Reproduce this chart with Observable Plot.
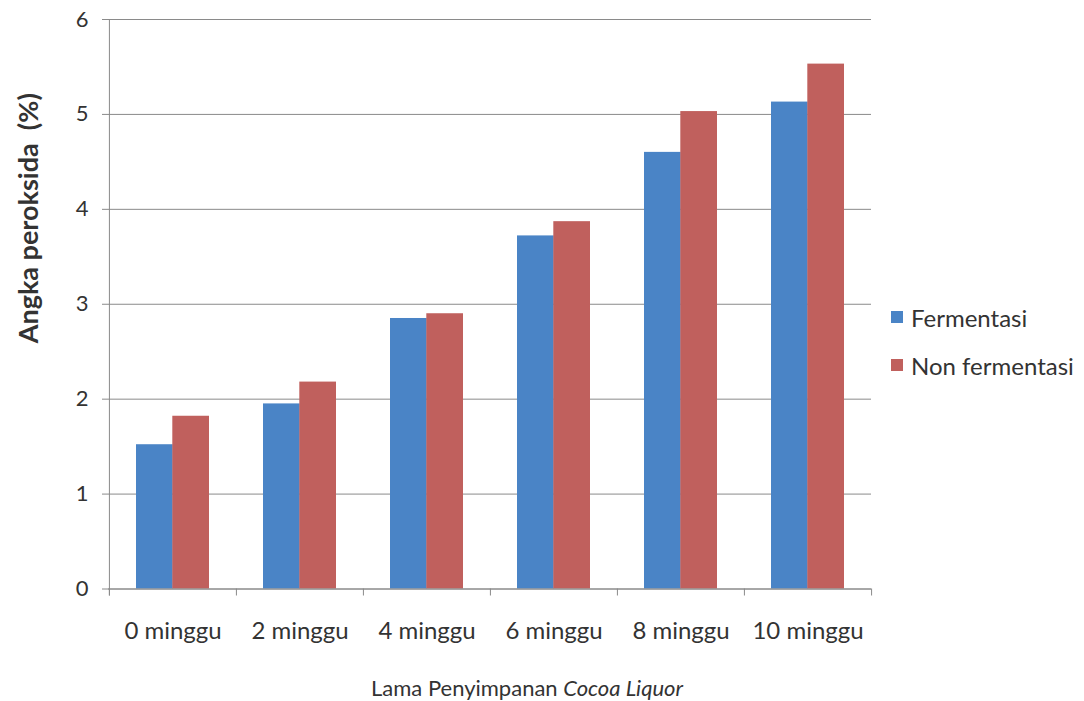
<!DOCTYPE html>
<html>
<head>
<meta charset="utf-8">
<script src="https://cdn.jsdelivr.net/npm/d3@7"></script>
<script src="https://cdn.jsdelivr.net/npm/@observablehq/plot@0.6"></script>
<style>
  body { margin: 0; background: #fff; font-family: Lato, "Open Sans", sans-serif; }
  #wrap { position: relative; width: 1084px; height: 701px; }
  .xtitle { position: absolute; top: 674px; left: 277px; width: 500px; text-align: center; font-size: 22px; color: #333; line-height: 28px; }
  .legend { position: absolute; left: 891px; font-size: 24px; color: #333; display: flex; align-items: center; height: 30px; white-space: nowrap; }
  .legend .sw { width: 12px; height: 12px; margin-right: 8px; }
</style>
</head>
<body>
<div id="wrap"></div>
<script>
const categories = ["0 minggu", "2 minggu", "4 minggu", "6 minggu", "8 minggu", "10 minggu"];
const fermentasi = [1.52, 1.95, 2.85, 3.72, 4.60, 5.13];
const nonFermentasi = [1.82, 2.18, 2.90, 3.87, 5.03, 5.53];
const seriesNames = ["Fermentasi", "Non fermentasi"];
const seriesColors = ["#4a84c6", "#c0605d"];
const yTicks = [0, 1, 2, 3, 4, 5, 6];

const W = 1084, H = 701;
const mL = 108, mR = 213, mT = 19, mB = 112.5;
const step = (W - mL - mR) / categories.length;
const padIn = 0.429;
const bw = step * (1 - padIn);
const plotH = H - mT - mB;

const data = categories.map((c, i) => ({cat: c, f: fermentasi[i], n: nonFermentasi[i]}));

const plot = Plot.plot({
  width: W, height: H,
  marginLeft: mL, marginRight: mR, marginTop: mT, marginBottom: mB,
  style: {fontFamily: "Lato, 'Open Sans', sans-serif", fontSize: "21px", color: "#333", background: "transparent"},
  x: {domain: categories, paddingInner: padIn, paddingOuter: padIn / 2, label: null},
  y: {domain: [0, 6], label: null},
  marks: [
    Plot.gridY(yTicks, {stroke: "#8a8a8a", strokeOpacity: 1, strokeWidth: 1}),
    Plot.barY(data, {x: "cat", y: "f", fill: seriesColors[0], insetRight: bw / 2}),
    Plot.barY(data, {x: "cat", y: "n", fill: seriesColors[1], insetLeft: bw / 2}),
    Plot.ruleY([0], {stroke: "#8a8a8a", strokeWidth: 1}),
    Plot.ruleX([categories[0]], {dx: -step / 2, stroke: "#8a8a8a", insetBottom: -7}),
    Plot.ruleX(categories, {dx: -step / 2, stroke: "#8a8a8a", insetTop: plotH, insetBottom: -7}),
    Plot.ruleX([categories[categories.length - 1]], {dx: step / 2, stroke: "#8a8a8a", insetTop: plotH, insetBottom: -7}),
    Plot.axisY(yTicks, {tickSize: 6, tickPadding: 14, tickFormat: d3.format("d"), stroke: "#8a8a8a", fill: "#333", fontSize: 22, label: null}),
    Plot.axisX({tickSize: 0, tickPadding: 33, fill: "#333", fontSize: 24, label: null}),
    Plot.text(["Angka peroksida  (%)"], {frameAnchor: "left", textAnchor: "middle", rotate: -90, dx: -79, dy: -86, fontWeight: "bold", fontSize: 27, fill: "#333"})
  ]
});

const wrap = document.getElementById("wrap");
wrap.appendChild(plot);

const xt = document.createElement("div");
xt.className = "xtitle";
xt.innerHTML = "Lama Penyimpanan <i>Cocoa Liquor</i>";
wrap.appendChild(xt);

const legendTops = [302, 350];
seriesNames.forEach((name, i) => {
  const d = document.createElement("div");
  d.className = "legend";
  d.style.top = legendTops[i] + "px";
  const sw = document.createElement("div");
  sw.className = "sw";
  sw.style.background = seriesColors[i];
  d.appendChild(sw);
  const t = document.createElement("span");
  t.textContent = name;
  d.appendChild(t);
  wrap.appendChild(d);
});
</script>
</body>
</html>
